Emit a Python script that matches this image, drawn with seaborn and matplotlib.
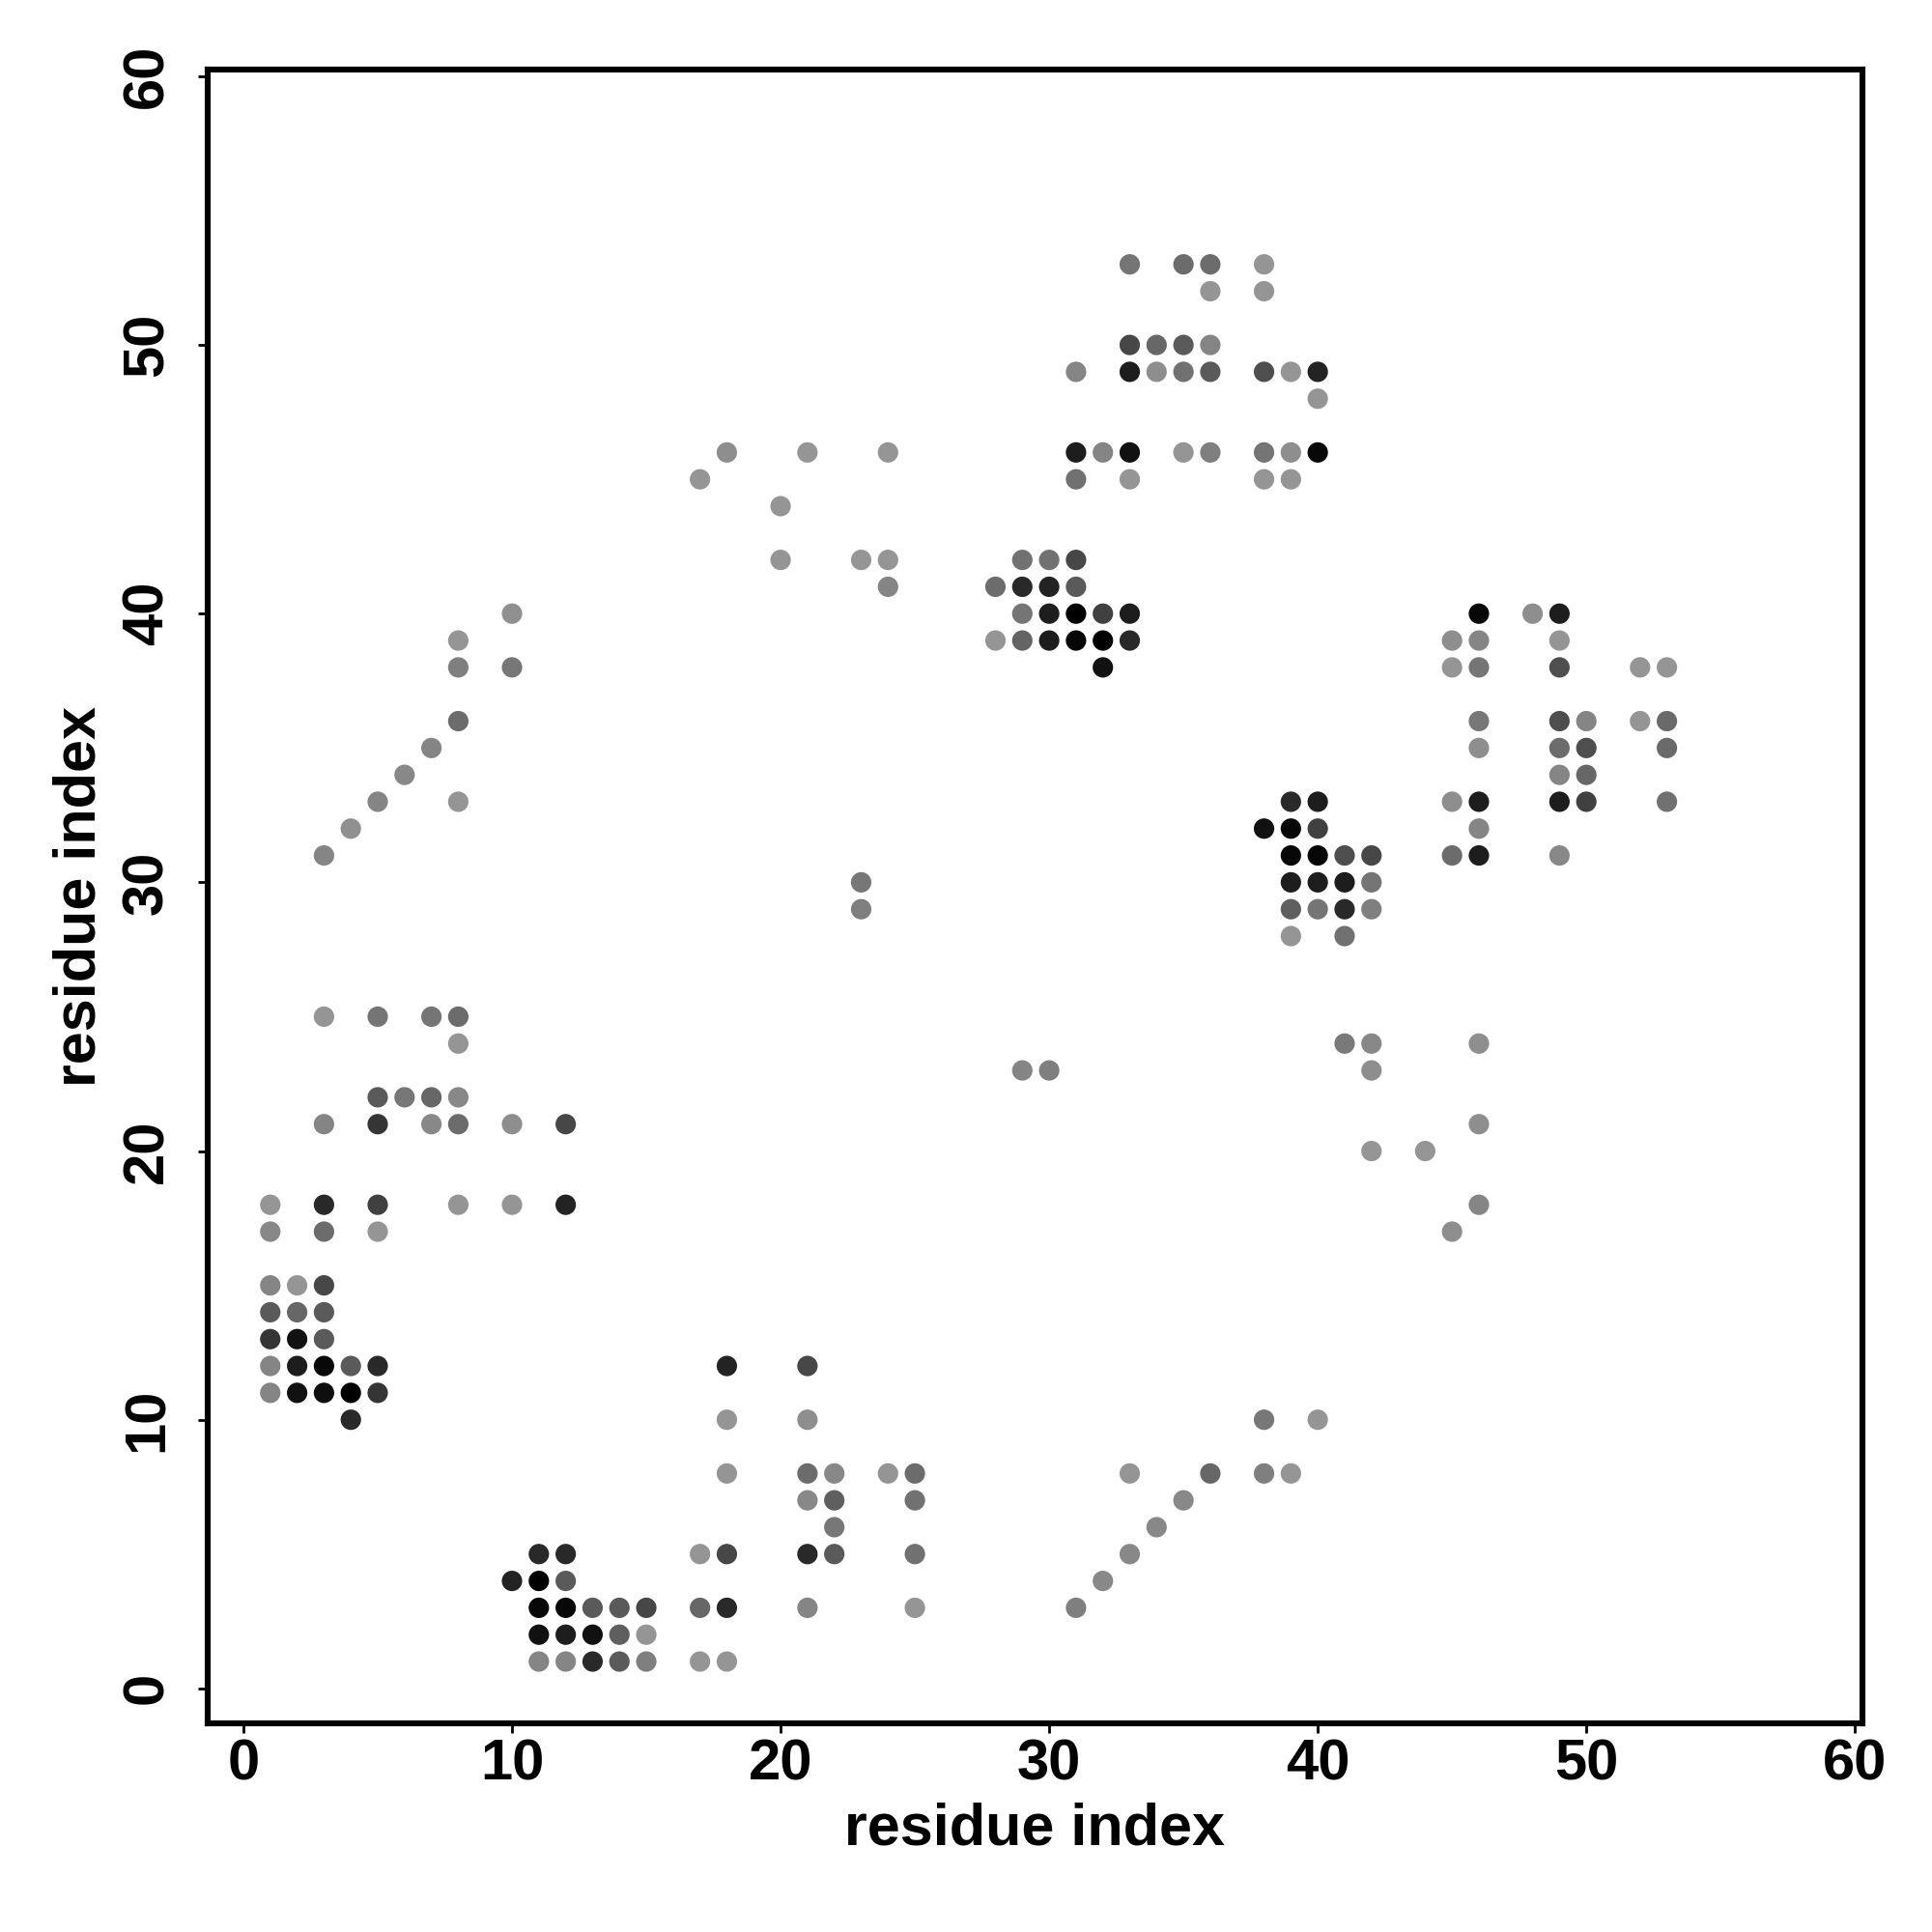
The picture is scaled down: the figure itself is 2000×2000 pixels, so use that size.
import pandas as pd
import seaborn as sns
import matplotlib
matplotlib.use("Agg")
import matplotlib.pyplot as plt

# contact map: residue i, residue j, contact strength (darker = stronger)
res_i = [
    1, 1,
    1, 2, 3,
    1, 2, 3,
    1, 2, 3,
    1, 2, 3, 4, 5,
    1, 2, 3, 4, 5,
    4,
    10, 8, 8, 10, 8, 7, 6, 5, 8, 4, 3,
    3, 5, 7, 8, 8,
    5, 6, 7, 8,
    3, 5, 7, 8, 10, 12,
    3, 5, 8, 10, 12,
    3, 5,
    11, 12, 17, 18,
    10, 11, 12,
    11, 12, 13, 14, 15, 17, 18,
    11, 12, 13, 14, 15,
    11, 12, 13, 14, 15, 17, 18,
    18, 18, 18,
    21, 21, 21, 22, 24, 25,
    21, 22, 25, 22,
    21, 22, 25,
    21, 25,
    31, 32, 33, 34, 35, 36, 33,
    38, 40, 38, 39,
    17, 18, 21, 24, 20, 20, 23, 24, 24,
    23, 23, 29, 30,
    29, 30, 31,
    28, 29, 30, 31,
    29, 30, 31, 32, 33,
    28, 29, 30, 31, 32, 33,
    32,
    33, 35, 36, 38,
    36, 38,
    33, 34, 35, 36,
    31, 33, 34, 35, 36, 38, 39, 40,
    40,
    31, 32, 33, 35, 36, 38, 39, 40,
    31, 33, 38, 39,
    39, 40,
    38, 39, 40,
    39, 40, 41, 42,
    39, 40, 41, 42,
    39, 40, 41, 42,
    39, 41,
    41, 42, 42, 42, 44,
    46, 46, 46, 45,
    46, 48, 49,
    45, 46, 49,
    45, 46, 49, 52, 53,
    46, 49, 50, 52, 53,
    46, 49, 50, 53,
    49, 50,
    45, 46, 49, 50, 53,
    46,
    45, 46, 49,
]

res_j = [
    18, 17,
    15, 15, 15,
    14, 14, 14,
    13, 13, 13,
    12, 12, 12, 12, 12,
    11, 11, 11, 11, 11,
    10,
    40, 39, 38, 38, 36, 35, 34, 33, 33, 32, 31,
    25, 25, 25, 25, 24,
    22, 22, 22, 22,
    21, 21, 21, 21, 21, 21,
    18, 18, 18, 18, 18,
    17, 17,
    5, 5, 5, 5,
    4, 4, 4,
    3, 3, 3, 3, 3, 3, 3,
    2, 2, 2, 2, 2,
    1, 1, 1, 1, 1, 1, 1,
    12, 10, 8,
    12, 10, 8, 8, 8, 8,
    7, 7, 7, 6,
    5, 5, 5,
    3, 3,
    3, 4, 5, 6, 7, 8, 8,
    10, 10, 8, 8,
    45, 46, 46, 46, 44, 42, 42, 42, 41,
    30, 29, 23, 23,
    42, 42, 42,
    41, 41, 41, 41,
    40, 40, 40, 40, 40,
    39, 39, 39, 39, 39, 39,
    38,
    53, 53, 53, 53,
    52, 52,
    50, 50, 50, 50,
    49, 49, 49, 49, 49, 49, 49, 49,
    48,
    46, 46, 46, 46, 46, 46, 46, 46,
    45, 45, 45, 45,
    33, 33,
    32, 32, 32,
    31, 31, 31, 31,
    30, 30, 30, 30,
    29, 29, 29, 29,
    28, 28,
    24, 24, 23, 20, 20,
    24, 21, 18, 17,
    40, 40, 40,
    39, 39, 39,
    38, 38, 38, 38, 38,
    36, 36, 36, 36, 36,
    35, 35, 35, 35,
    34, 34,
    33, 33, 33, 33, 33,
    32,
    31, 31, 31,
]

strength = [
    .50, .55,
    .56, .50, .78,
    .72, .67, .72,
    .83, .94, .72,
    .56, .90, .97, .72, .86,
    .56, .94, .95, 1.0, .83,
    .86,
    .52, .50, .58, .61, .65, .56, .55, .56, .50, .52, .56,
    .50, .62, .62, .65, .50,
    .72, .61, .67, .55,
    .56, .83, .55, .65, .53, .78,
    .86, .80, .50, .50, .88,
    .65, .50,
    .86, .86, .50, .78,
    .88, 1.0, .72,
    .97, .97, .72, .72, .78, .67, .86,
    .94, .90, .94, .70, .50,
    .56, .56, .86, .72, .58, .50, .50,
    .88, .50, .50,
    .78, .53, .65, .55, .50, .65,
    .55, .70, .63, .61,
    .86, .72, .63,
    .56, .50,
    .58, .55, .55, .55, .55, .67, .50,
    .61, .50, .58, .50,
    .50, .53, .50, .50, .50, .50, .50, .50, .56,
    .61, .58, .56, .58,
    .63, .63, .78,
    .65, .86, .88, .72,
    .62, .90, 1.0, .80, .90,
    .50, .68, .90, .98, 1.0, .86,
    .94,
    .62, .65, .65, .50,
    .50, .50,
    .78, .67, .72, .56,
    .56, .90, .53, .63, .72, .76, .50, .88,
    .50,
    .90, .56, .94, .50, .58, .62, .53, .97,
    .63, .50, .50, .50,
    .86, .90,
    .94, .98, .80,
    .98, .98, .76, .78,
    .90, .90, .90, .62,
    .70, .62, .86, .58,
    .50, .63,
    .60, .55, .53, .50, .50,
    .53, .53, .56, .53,
    .97, .53, .90,
    .53, .56, .50,
    .50, .62, .76, .50, .50,
    .61, .76, .56, .50, .66,
    .53, .65, .76, .66,
    .56, .67,
    .53, .90, .90, .80, .63,
    .56,
    .65, .90, .55,
]

df = pd.DataFrame({"i": res_i, "j": res_j, "strength": strength})

sns.set_style("white")
plt.rcParams["font.family"] = ["Liberation Sans", "DejaVu Sans"]
plt.rcParams["font.weight"] = "bold"
plt.rcParams["text.color"] = "black"
plt.rcParams["axes.labelcolor"] = "black"
plt.rcParams["xtick.color"] = "black"
plt.rcParams["ytick.color"] = "black"

fig = plt.figure(figsize=(10, 10), dpi=200)
ax = fig.add_axes([0.1075, 0.108, 0.8565, 0.856])

sns.scatterplot(data=df, x="i", y="j", hue="strength", palette="Greys",
                hue_norm=(0, 1), s=58, linewidth=0, legend=False, ax=ax)

ax.set_xlim(-1.33, 60.28)
ax.set_ylim(-1.3, 60.25)
ax.set_xticks(range(0, 61, 10))
ax.set_yticks(range(0, 61, 10))
ax.tick_params(axis="both", direction="out", length=3.5, width=1.0,
               labelsize=21.5, color="black", labelcolor="black",
               bottom=True, left=True)
ax.tick_params(axis="x", pad=2)
ax.tick_params(axis="y", pad=9)
for lab in ax.get_yticklabels():
    lab.set_rotation(90)
    lab.set_va("center")
for lab in ax.get_xticklabels() + ax.get_yticklabels():
    lab.set_fontweight("bold")

for sp in ax.spines.values():
    sp.set_visible(True)
    sp.set_linewidth(2.2)
    sp.set_color("black")

ax.set_xlabel("residue index", fontsize=22, fontweight="bold", labelpad=4, color="black")
ax.set_ylabel("residue index", fontsize=22, fontweight="bold", labelpad=5, color="black")

fig.savefig("out.png", dpi=200, facecolor="white")
